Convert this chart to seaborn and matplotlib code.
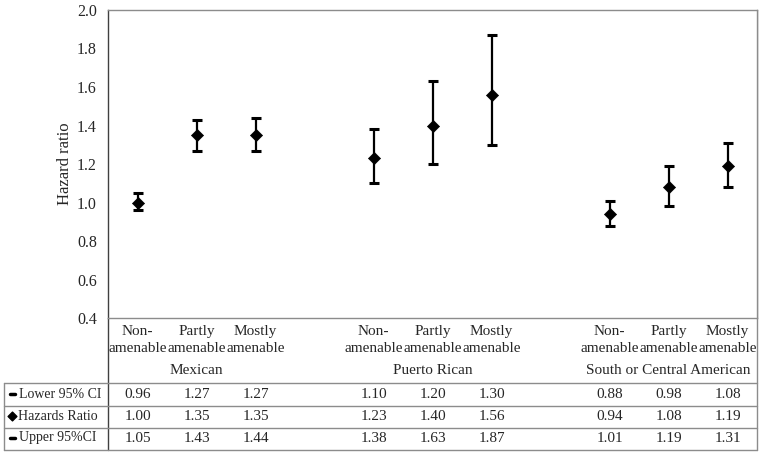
import matplotlib
matplotlib.use("Agg")
import matplotlib.pyplot as plt
import matplotlib.transforms as mtrans
import seaborn as sns
import pandas as pd

# data
groups = ["Mexican", "Puerto Rican", "South or Central American"]
levels = ["Non-\namenable", "Partly\namenable", "Mostly\namenable"]
hazard = [1.00, 1.35, 1.35, 1.23, 1.40, 1.56, 0.94, 1.08, 1.19]
lower = [0.96, 1.27, 1.27, 1.10, 1.20, 1.30, 0.88, 0.98, 1.08]
upper = [1.05, 1.43, 1.44, 1.38, 1.63, 1.87, 1.01, 1.19, 1.31]
row_names = ["Lower 95% CI", "Hazards Ratio", "Upper 95%CI"]
yticks = [0.4, 0.6, 0.8, 1.0, 1.2, 1.4, 1.6, 1.8, 2.0]

# Excel-style category axis: one blank slot between groups
pos = []
for g in range(len(groups)):
    for k in range(len(levels)):
        pos.append(g * (len(levels) + 1) + k)
df = pd.DataFrame({"pos": pos, "hr": hazard, "lo": lower, "hi": upper})

sns.set_style("white")
plt.rcParams["font.family"] = ["Liberation Serif", "DejaVu Sans"]
W, H = 764, 457
fig = plt.figure(figsize=(W / 100, H / 100), dpi=100)
ax = fig.add_axes([108 / W, 1 - 318 / H, (757 - 108) / W, (318 - 10) / H])

ax.errorbar(df["pos"], df["hr"], yerr=[df["hr"] - df["lo"], df["hi"] - df["hr"]],
            fmt="none", ecolor="black", elinewidth=1.6, capsize=3.5, capthick=2.2)
sns.scatterplot(data=df, x="pos", y="hr", marker="D", s=38, color="black",
                edgecolor="black", ax=ax, zorder=3, legend=False)

ax.set_xlim(-0.5, len(groups) * (len(levels) + 1) - 1.5)
ax.set_ylim(0.4, 2.0)
ax.set_yticks(yticks)
ax.set_yticklabels([f"{v:.1f}" for v in yticks], fontsize=11.5)
ax.set_xticks([])
ax.set_xlabel("")
ax.set_ylabel("Hazard ratio", fontsize=12, labelpad=3)
ax.tick_params(axis="y", length=0, pad=8)
for s in ["top", "right", "bottom"]:
    ax.spines[s].set_color("#8c8c8c")
    ax.spines[s].set_linewidth(1)
ax.spines["left"].set_color("#404040")
ax.spines["left"].set_linewidth(1)

# table area in pixel coordinates
tab = fig.add_axes([0, 0, 1, 1], zorder=-1)
tab.set_xlim(0, W)
tab.set_ylim(H, 0)
tab.axis("off")
tr = mtrans.blended_transform_factory(ax.transData, tab.transData)

lc = "#8c8c8c"
tab.plot([108, 108], [318, 450], color="#404040", lw=1)
tab.plot([757, 757], [10, 450], color=lc, lw=1)
tab.plot([4, 4], [383, 450], color=lc, lw=1)
for yy in [383, 406, 428, 450]:
    tab.plot([4, 757], [yy, yy], color=lc, lw=1)

fs = 11
for i, p in enumerate(pos):
    lv = levels[i % len(levels)]
    tab.text(p, 340, lv, transform=tr, ha="center", va="center", fontsize=fs,
             linespacing=1.35)
for g, name in enumerate(groups):
    mid = g * (len(levels) + 1) + (len(levels) - 1) / 2
    tab.text(mid, 371, name, transform=tr, ha="center", va="center", fontsize=fs)

rows = [lower, hazard, upper]
row_y = [394, 416, 438]
for r, vals in enumerate(rows):
    for p, v in zip(pos, vals):
        tab.text(p, row_y[r], f"{v:.2f}", transform=tr, ha="center", va="center",
                 fontsize=fs)

# legend keys in the first column
tab.plot([10, 15], [row_y[0], row_y[0]], color="black", lw=2.5)
tab.plot([10, 15], [row_y[2], row_y[2]], color="black", lw=2.5)
tab.scatter([12], [row_y[1]], marker="D", s=20, color="black")
tab.text(19, row_y[0], row_names[0], ha="left", va="center", fontsize=10)
tab.text(18, row_y[1], row_names[1], ha="left", va="center", fontsize=10)
tab.text(19, row_y[2], row_names[2], ha="left", va="center", fontsize=10)

fig.savefig("out.png", dpi=100)
